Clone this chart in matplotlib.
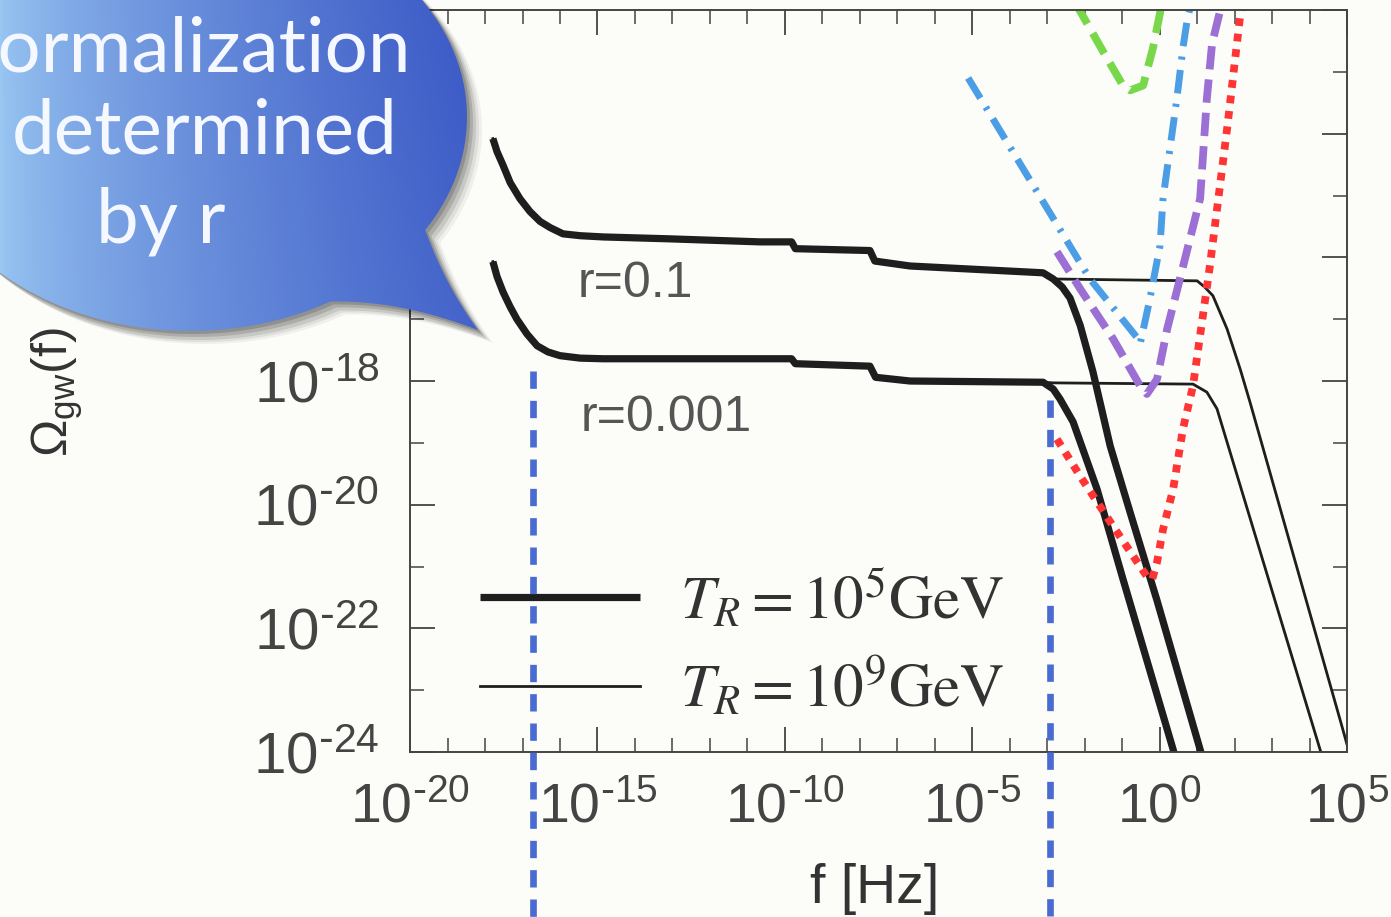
import numpy as np
import matplotlib
matplotlib.use('Agg')
import matplotlib.pyplot as plt
from matplotlib.path import Path
from matplotlib.patches import PathPatch
from matplotlib.font_manager import FontProperties
from matplotlib.ticker import FixedLocator, FixedFormatter, NullFormatter

# all values are log10
# r = 0.1, part shared by both reheating temperatures
f_r1 = [-17.79, -17.68, -17.52, -17.33, -17.07, -16.80, -16.53, -16.26, -15.92, -15.46,
        -14.85, -13.12, -10.66, -9.82, -9.72, -7.73, -7.60, -6.66, -3.11]
om_r1 = [-14.08, -14.29, -14.51, -14.79, -15.05, -15.26, -15.42, -15.52, -15.62, -15.65,
         -15.67, -15.70, -15.75, -15.75, -15.86, -15.89, -16.06, -16.14, -16.25]
# r = 0.1 tails
f_r1_t5 = [-2.84, -2.60, -2.39, -2.12, -1.78, -1.32, -0.79, -0.07, 1.08, 1.20]
om_r1_t5 = [-16.35, -16.48, -16.66, -17.10, -17.85, -19.05, -20.12, -21.55, -23.96, -24.20]
f_r1_t9 = [-2.84, 1.00, 1.20, 1.42, 1.80, 2.15, 2.41, 4.89, 5.10]
om_r1_t9 = [-16.35, -16.38, -16.48, -16.62, -17.16, -17.81, -18.34, -23.64, -24.10]

# r = 0.001
f_r3 = [-17.79, -17.68, -17.52, -17.33, -17.15, -16.88, -16.61, -16.32, -16.00, -15.46,
        -14.85, -10.66, -9.82, -9.72, -7.73, -7.58, -6.66, -3.11]
om_r3 = [-16.07, -16.31, -16.56, -16.80, -17.00, -17.24, -17.43, -17.53, -17.59, -17.63,
         -17.64, -17.64, -17.64, -17.72, -17.76, -17.94, -18.00, -18.02]
f_r3_t5 = [-2.84, -2.66, -2.31, -1.67, -0.98, 0.36, 0.50]
om_r3_t5 = [-18.13, -18.29, -18.66, -19.75, -21.20, -23.96, -24.30]
f_r3_t9 = [-2.84, 0.89, 1.26, 1.53, 4.28, 4.40]
om_r3_t9 = [-18.03, -18.05, -18.18, -18.45, -23.96, -24.20]

# detector sensitivity curves
f_green = [-2.25, -2.12, -1.51, -0.98, -0.79, -0.44, -0.18, 0.01, 0.05]
om_green = [-11.90, -12.02, -12.67, -13.22, -13.30, -13.22, -12.62, -12.05, -11.90]
f_blue = [-5.11, -1.86, -0.60, -0.52, -0.26, 0.01, 0.09, 0.46, 0.62, 0.73, 0.81]
om_blue = [-13.10, -16.35, -17.30, -17.40, -16.67, -15.81, -15.05, -13.43, -12.62, -12.18, -11.97]
f_purple = [-2.74, -2.12, -1.24, -0.52, -0.34, -0.07, 0.20, 0.54, 0.81, 1.08, 1.26, 1.40, 1.61, 1.72]
om_purple = [-15.91, -16.51, -17.32, -18.08, -18.21, -17.97, -17.16, -16.35, -15.70, -15.05,
             -13.43, -12.54, -12.02, -11.80]
f_red = [-2.74, -2.12, -1.24, -0.34, -0.20, -0.07, 0.09, 0.36, 0.62, 0.89, 1.34, 1.80, 2.15, 2.23]
om_red = [-18.94, -19.54, -20.35, -21.16, -21.21, -20.93, -20.40, -19.75, -18.78, -18.08,
          -16.14, -13.92, -12.08, -11.81]

# vertical marker lines (log f, top, bottom)
f_vlines = [-16.72, -2.92]
om_vtop = [-17.84, -18.30]
om_vbot = -26.8

xmaj = [-20, -15, -10, -5, 0, 5]
ymaj = [-24, -22, -20, -18, -16, -14, -12]

black = '#1e1e1e'

def lin(a):
    return 10.0 ** np.array(a)

fig = plt.figure(figsize=(13.91, 9.17), dpi=100, facecolor='#fcfcf9')
ax = fig.add_axes([0.2948, 0.1799, 0.9684 - 0.2948, 0.9891 - 0.1799])
ax.set_facecolor('#fcfcf9')
ax.set_xscale('log')
ax.set_yscale('log')

thick_kw = dict(color=black, lw=5.2, solid_capstyle='butt', solid_joinstyle='round')
thin_kw = dict(color=black, lw=2.0, solid_joinstyle='round')

# thin (T_R = 1e9) first, thick drawn over the shared part
l9, = ax.plot(lin(f_r1 + f_r1_t9), lin(om_r1 + om_r1_t9), **thin_kw)
ax.plot(lin(f_r3 + f_r3_t9), lin(om_r3 + om_r3_t9), **thin_kw)
l5, = ax.plot(lin(f_r1 + f_r1_t5), lin(om_r1 + om_r1_t5), **thick_kw)
ax.plot(lin(f_r3 + f_r3_t5), lin(om_r3 + om_r3_t5), **thick_kw)

ax.plot(lin(f_green), lin(om_green), color='#78d84a', lw=5.6, dashes=(3.0, 1.4))
ax.plot(lin(f_blue), lin(om_blue), color='#4b9ee6', lw=5.0, dashes=(3.4, 1.5, 0.45, 1.5))
ax.plot(lin(f_purple), lin(om_purple), color='#9b6fd3', lw=5.6, dashes=(3.0, 1.3))
ax.plot(lin(f_red), lin(om_red), color='#ff3434', lw=5.6, dashes=(1.0, 1.0))

for fv, top in zip(f_vlines, om_vtop):
    ax.plot(lin([fv, fv]), lin([top, om_vbot]), color='#4a6bd0', lw=4.8,
            dashes=(2.6, 1.8), clip_on=False, zorder=6)

ax.set_xlim(1e-20, 1e5)
ax.set_ylim(1e-24, 1e-12)

ax.xaxis.set_major_locator(FixedLocator(lin(xmaj)))
ax.xaxis.set_major_formatter(FixedFormatter([r'$\mathregular{10^{\text{-}%d}}$' % -e if e < 0
                                             else r'$\mathregular{10^{%d}}$' % e for e in xmaj]))
ax.xaxis.set_minor_locator(FixedLocator(lin(range(-20, 6))))
ax.xaxis.set_minor_formatter(NullFormatter())
ax.yaxis.set_major_locator(FixedLocator(lin(ymaj)))
ax.yaxis.set_major_formatter(FixedFormatter([r'$\mathregular{10^{\text{-}%d}}$' % -e for e in ymaj]))
ax.yaxis.set_minor_locator(FixedLocator(lin(range(-24, -11))))
ax.yaxis.set_minor_formatter(NullFormatter())
for lab in ax.get_xticklabels() + ax.get_yticklabels():
    lab.set_fontfamily('Liberation Sans')
    lab.set_fontsize(40)
    lab.set_color('#333333')
for lab in ax.get_yticklabels():
    lab.set_fontsize(42)

ax.tick_params(which='both', direction='in', top=True, right=True, colors='#444444')
ax.tick_params(which='major', length=18, width=1.3)
ax.tick_params(which='minor', length=10, width=1.1)
ax.tick_params(axis='x', which='major', pad=22)
ax.tick_params(axis='y', which='major', pad=22)
for sp in ax.spines.values():
    sp.set_color('#444444')
    sp.set_linewidth(1.4)

ax.set_xlabel('f [Hz]', fontsize=40, fontfamily='Liberation Sans', color='#333333')
ax.xaxis.set_label_coords(0.496, -0.150)
ax.set_ylabel('Ω$_{\\mathregular{gw}}$(f)', fontsize=36, fontfamily='Liberation Sans', color='#333333')
ax.yaxis.set_label_coords(-0.347, 0.485)

ax.text(10 ** -15.52, 10 ** -16.64, 'r=0.1', fontsize=36, fontfamily='Liberation Sans',
        color='#555555', va='baseline')
ax.text(10 ** -15.46, 10 ** -18.81, 'r=0.001', fontsize=36, fontfamily='Liberation Sans',
        color='#555555', va='baseline')

leg_prop = FontProperties(family='Liberation Serif', size=44, math_fontfamily='stix')
ax.legend([l5, l9], [r'$T_R=10^5\mathrm{GeV}$', r'$T_R=10^9\mathrm{GeV}$'],
          loc='upper left', bbox_to_anchor=(0.0747, 0.248), frameon=False, prop=leg_prop,
          borderpad=0, borderaxespad=0, handlelength=2.62, handletextpad=0.65,
          labelspacing=0.41, labelcolor='#333333')

# speech bubble overlay, drawn in pixel coordinates of the figure
ov = fig.add_axes([0, 0, 1, 1], zorder=10)
ov.set_xlim(0, 1391)
ov.set_ylim(917, 0)
ov.axis('off')
ov.patch.set_alpha(0)

cx, cy, rx, ry = 190, 117, 277, 214
t = np.linspace(1.04, 0.556 + 2 * np.pi, 300)
pts = np.column_stack([cx + rx * np.cos(t), cy + ry * np.sin(t)])
q = np.linspace(0, 1, 30)[:, None]
p0, c0, p1 = pts[-1], np.array([445, 285]), np.array([478, 330])
tail1 = (1 - q) ** 2 * p0 + 2 * (1 - q) * q * c0 + q ** 2 * p1
p2, c1 = pts[0], np.array([400, 300])
tail2 = (1 - q) ** 2 * p1 + 2 * (1 - q) * q * c1 + q ** 2 * p2
verts = np.vstack([pts, tail1, tail2])

for dx, dy, a in [(3, 3, 0.16), (6, 6, 0.13), (9, 9, 0.10), (12, 11, 0.07), (15, 13, 0.05)]:
    ov.add_patch(PathPatch(Path(verts + [dx, dy]), fc='black', ec='none', alpha=a))

bubble = PathPatch(Path(verts), fc='none', ec='none')
ov.add_patch(bubble)
gx = np.linspace(0, 1, 240)
gy = np.linspace(0, 1, 180)
X, Y = np.meshgrid(gx, gy)
tt = np.clip(X ** 0.7 + 0.12 * (0.5 - Y) * X, 0, 1)
cL = np.array([0.60, 0.78, 0.95])
cR = np.array([0.24, 0.36, 0.78])
img = (1 - tt)[..., None] * cL + tt[..., None] * cR
im = ov.imshow(img, extent=[0, 490, 345, 0], origin='upper', aspect='auto', zorder=2)
im.set_clip_path(bubble)

txt_kw = dict(fontfamily='Lato', fontsize=55, color='#f6f8ff', va='baseline', zorder=3)
ov.text(410, 72, 'Normalization', ha='right', **txt_kw)
ov.text(205, 153, 'determined', ha='center', **txt_kw)
ov.text(96, 243, 'by r', ha='left', **txt_kw)

fig.savefig('out.png', dpi=100, facecolor=fig.get_facecolor())
